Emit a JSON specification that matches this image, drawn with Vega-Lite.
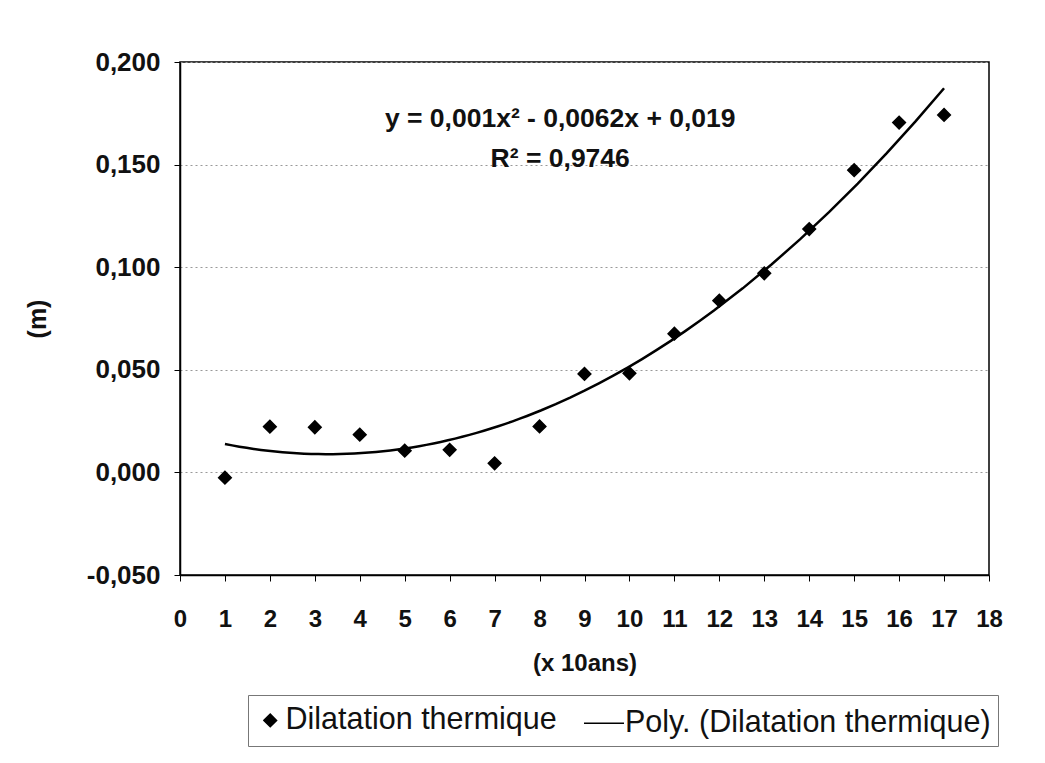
{
  "$schema": "https://vega.github.io/schema/vega-lite/v6.json",
  "width": 809,
  "height": 513,
  "autosize": {"type": "none"},
  "padding": {"left": 180, "top": 62, "right": 56, "bottom": 188},
  "background": "white",
  "config": {
    "font": "Liberation Sans",
    "view": {"stroke": "black", "strokeWidth": 1.5},
    "legend": {
      "orient": "none",
      "legendX": 68,
      "legendY": 633,
      "direction": "horizontal",
      "labelFontSize": 30.5,
      "labelFont": "Liberation Sans",
      "labelColor": "#111",
      "labelLimit": 600,
      "strokeColor": "#777",
      "fillColor": "white",
      "padding": 7,
      "columnPadding": 24,
      "labelOffset": 0
    }
  },
  "datasets": {
    "obs": [
      {"x": 1, "y": -0.0026, "serie": "Dilatation thermique"},
      {"x": 2, "y": 0.0223, "serie": "Dilatation thermique"},
      {"x": 3, "y": 0.0220, "serie": "Dilatation thermique"},
      {"x": 4, "y": 0.0184, "serie": "Dilatation thermique"},
      {"x": 5, "y": 0.0106, "serie": "Dilatation thermique"},
      {"x": 6, "y": 0.0110, "serie": "Dilatation thermique"},
      {"x": 7, "y": 0.0044, "serie": "Dilatation thermique"},
      {"x": 8, "y": 0.0224, "serie": "Dilatation thermique"},
      {"x": 9, "y": 0.0480, "serie": "Dilatation thermique"},
      {"x": 10, "y": 0.0483, "serie": "Dilatation thermique"},
      {"x": 11, "y": 0.0676, "serie": "Dilatation thermique"},
      {"x": 12, "y": 0.0837, "serie": "Dilatation thermique"},
      {"x": 13, "y": 0.0970, "serie": "Dilatation thermique"},
      {"x": 14, "y": 0.1186, "serie": "Dilatation thermique"},
      {"x": 15, "y": 0.1473, "serie": "Dilatation thermique"},
      {"x": 16, "y": 0.1705, "serie": "Dilatation thermique"},
      {"x": 17, "y": 0.1742, "serie": "Dilatation thermique"}
    ],
    "equation": [
      {"label": "y = 0,001x² - 0,0062x + 0,019\nR² = 0,9746"}
    ]
  },
  "layer": [
    {
      "data": {"name": "obs"},
      "transform": [{"regression": "y", "on": "x", "method": "poly", "order": 2}],
      "mark": {"type": "line", "color": "black", "strokeWidth": 2.5},
      "encoding": {
        "x": {
          "field": "x",
          "type": "quantitative",
          "scale": {"domain": [0, 18], "nice": false, "zero": false},
          "axis": {
            "title": "(x 10ans)",
            "values": [0, 1, 2, 3, 4, 5, 6, 7, 8, 9, 10, 11, 12, 13, 14, 15, 16, 17, 18],
            "grid": false,
            "tickSize": 6,
            "tickColor": "black",
            "domainColor": "black",
            "domainWidth": 1.5,
            "labelFontSize": 24,
            "labelFontWeight": "bold",
            "labelColor": "#111",
            "labelPadding": 26,
            "labelFlush": false,
            "titleFontSize": 24,
            "titleFontWeight": "bold",
            "titleColor": "#111",
            "titlePadding": 20
          }
        },
        "y": {
          "field": "y",
          "type": "quantitative",
          "scale": {"domain": [-0.05, 0.2], "nice": false, "zero": false},
          "axis": {
            "title": "(m)",
            "values": [-0.05, 0, 0.05, 0.1, 0.15, 0.2],
            "labelExpr": "replace(replace(format(datum.value, '.3f'), '.', ','), '\u2212', '-')",
            "grid": true,
            "gridDash": [2, 3],
            "gridColor": "#999",
            "gridWidth": 1.2,
            "tickSize": 6,
            "tickColor": "black",
            "domainColor": "black",
            "domainWidth": 1.5,
            "labelFontSize": 26,
            "labelFontWeight": "bold",
            "labelColor": "#111",
            "labelPadding": 14,
            "titleFontSize": 25,
            "titleFontWeight": "bold",
            "titleColor": "#111",
            "titlePadding": 36
          }
        }
      }
    },
    {
      "data": {"name": "obs"},
      "mark": {"type": "point", "filled": true, "fill": "black", "stroke": "black", "strokeWidth": 1.5, "opacity": 1},
      "encoding": {
        "x": {"field": "x", "type": "quantitative"},
        "y": {"field": "y", "type": "quantitative"},
        "shape": {
          "field": "serie",
          "type": "nominal",
          "scale": {"domain": ["Dilatation thermique", "Poly. (Dilatation thermique)"], "range": ["diamond", "stroke"]},
          "legend": {"title": null}
        },
        "size": {
          "field": "serie",
          "type": "nominal",
          "scale": {"type": "ordinal", "domain": ["Dilatation thermique", "Poly. (Dilatation thermique)"], "range": [160, 1600]},
          "legend": {"title": null}
        }
      }
    },
    {
      "data": {"name": "equation"},
      "mark": {
        "type": "text",
        "lineBreak": "\n",
        "fontSize": 26.5,
        "fontWeight": "bold",
        "align": "center",
        "baseline": "middle",
        "lineHeight": 40,
        "color": "#111"
      },
      "encoding": {
        "x": {"datum": 8.46, "type": "quantitative"},
        "y": {"datum": 0.1722, "type": "quantitative"},
        "text": {"field": "label"}
      }
    }
  ]
}
